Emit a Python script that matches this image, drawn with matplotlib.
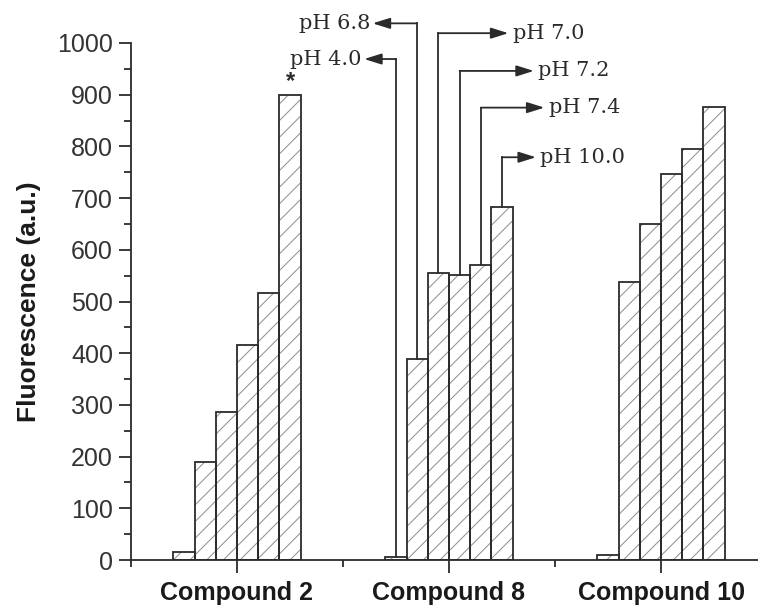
import numpy as np
import matplotlib.pyplot as plt

# data
compounds = ['Compound 2', 'Compound 8', 'Compound 10']
ph_labels = ['pH 4.0', 'pH 6.8', 'pH 7.0', 'pH 7.2', 'pH 7.4', 'pH 10.0']
comp2 = [15, 190, 286, 416, 516, 900]
comp8 = [5, 388, 556, 551, 571, 683]
comp10 = [10, 537, 650, 747, 795, 876]
values = [comp2, comp8, comp10]

# where the pH callouts sit (on compound 8)
elbow_y = [969, 1038, 1019, 946, 875, 779]
tip_x = [1.60, 1.64, 2.28, 2.40, 2.45, 2.41]
text_side = ['left', 'left', 'right', 'right', 'right', 'right']

plt.rcParams['font.family'] = ['Liberation Sans', 'DejaVu Sans']
plt.rcParams['hatch.linewidth'] = 0.7
ink = '#2b2b2b'

fig = plt.figure(figsize=(7.58, 6.05), dpi=100)
ax = fig.add_axes([131/758, 45/605, 1 - 131/758, 517/605])

width = 0.1
groups = np.arange(1, len(compounds) + 1)
offsets = (np.arange(len(ph_labels)) - 2.5) * width

for g, vals in zip(groups, values):
    xs = g + offsets
    # hatch layer in grey, then black outline on top
    ax.bar(xs, vals, width, color='white', edgecolor='#8c8c8c', linewidth=0,
           hatch='//', zorder=2)
    ax.bar(xs, vals, width, fill=False, edgecolor=ink, linewidth=1.3, zorder=3)

# asterisk over the tallest compound 2 bar
ax.text(groups[0] + offsets[-1], comp2[-1] + 4, '*', ha='center', va='bottom',
        fontsize=17, fontweight='bold', color=ink)

# pH callouts
for i, lab in enumerate(ph_labels):
    cx = groups[1] + offsets[i]
    top = comp8[i]
    ax.plot([cx, cx], [top, elbow_y[i]], color=ink, lw=1.3, clip_on=False, zorder=4)
    ax.annotate('', xy=(tip_x[i], elbow_y[i]), xytext=(cx, elbow_y[i]),
                arrowprops=dict(arrowstyle='-|>,head_length=0.7,head_width=0.22',
                                color=ink, lw=1.3, shrinkA=0, shrinkB=0,
                                mutation_scale=15),
                annotation_clip=False, zorder=4)
    if text_side[i] == 'left':
        ax.annotate(lab, xy=(tip_x[i], elbow_y[i]), xytext=(-2, 0),
                    textcoords='offset points', ha='right', va='center',
                    fontsize=15, family='DejaVu Serif', color=ink,
                    annotation_clip=False)
    else:
        ax.annotate(lab, xy=(tip_x[i], elbow_y[i]), xytext=(3, 0),
                    textcoords='offset points', ha='left', va='center',
                    fontsize=15, family='DejaVu Serif', color=ink,
                    annotation_clip=False)

ax.set_xlim(0.5, 0.5 + 627/212)
ax.set_ylim(0, 1000)
ax.set_xticks(groups)
ax.set_xticklabels(compounds, fontsize=18, fontweight='bold', color='#1a1a1a')
ax.set_xticks([0.5, 1.5, 2.5], minor=True)
ax.set_yticks(np.arange(0, 1001, 100))
ax.set_yticks(np.arange(50, 1000, 100), minor=True)
ax.tick_params(axis='y', labelsize=18, labelcolor='#333333')
ax.tick_params(which='major', length=9, width=1.3, color=ink, direction='out')
ax.tick_params(which='minor', length=5, width=1.3, color=ink, direction='out')
ax.tick_params(axis='x', which='major', pad=6)
ax.tick_params(axis='y', which='major', pad=4)

ax.set_ylabel('Fluorescence (a.u.)', fontsize=19, fontweight='bold', color='#1a1a1a')
ax.yaxis.set_label_coords(-0.143, 0.5)

for s in ['top', 'right']:
    ax.spines[s].set_visible(False)
for s in ['left', 'bottom']:
    ax.spines[s].set_color(ink)
    ax.spines[s].set_linewidth(1.3)

fig.savefig('out.png', dpi=100)
